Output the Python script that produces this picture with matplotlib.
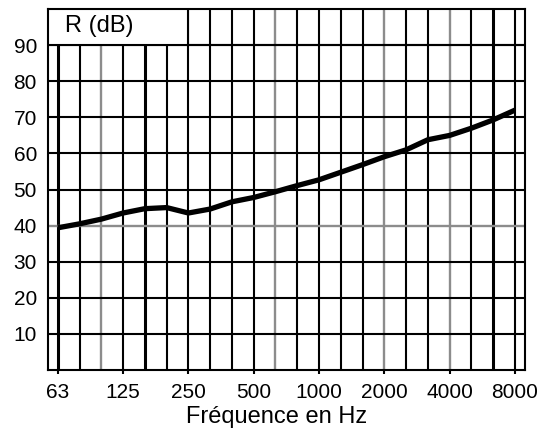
import matplotlib.pyplot as plt
from matplotlib.patches import Rectangle

plt.rcParams['font.family'] = ['Liberation Sans', 'DejaVu Sans']

# third-octave bands
bands = [63, 80, 100, 125, 160, 200, 250, 315, 400, 500, 630, 800,
         1000, 1250, 1600, 2000, 2500, 3150, 4000, 5000, 6300, 8000]
R = [39.4, 40.5, 41.8, 43.5, 44.7, 45.0, 43.5, 44.6, 46.6, 47.8, 49.4,
     51.1, 52.7, 54.8, 56.9, 59.1, 61.0, 63.8, 65.0, 67.0, 69.3, 72.0]
tick_labels = ['63', '125', '250', '500', '1000', '2000', '4000', '8000']
y_ticks = [10, 20, 30, 40, 50, 60, 70, 80, 90]

gray_bands = [100, 630, 2000, 4000]
thick_bands = [63, 160, 6300]

fig = plt.figure(figsize=(5.41, 4.32), dpi=100)
ax = fig.add_axes([0.0887, 0.1435, 0.8813, 0.8355])

xs = list(range(len(bands)))

# vertical grid
for i, b in enumerate(bands):
    if b in gray_bands:
        ax.axvline(i, color='0.55', lw=1.7, zorder=1)
    elif b in thick_bands:
        ax.axvline(i, color='black', lw=2.2, zorder=1)
    else:
        ax.axvline(i, color='black', lw=1.5, zorder=1)

# horizontal grid
for v in y_ticks:
    if v == 40:
        ax.axhline(v, color='0.55', lw=1.7, zorder=1)
    else:
        ax.axhline(v, color='black', lw=1.5, zorder=1)

# label box top-left
ax.add_patch(Rectangle((-0.45, 90), 6.45, 10, facecolor='white',
                       edgecolor='none', zorder=2))
ax.plot([6, 6], [90, 100], color='black', lw=1.5, zorder=3)
ax.axhline(90, color='black', lw=1.5, zorder=3)
ax.text(0.35, 95.3, 'R (dB)', fontsize=17, va='center', ha='left', zorder=4)

ax.plot(xs, R, color='black', lw=3.8, solid_capstyle='butt', zorder=5)

ax.set_xlim(-0.45, 21.45)
ax.set_ylim(0, 100)

major = [bands.index(int(t)) for t in tick_labels]
ax.set_xticks(major)
ax.set_xticklabels(tick_labels, fontsize=15)
ax.tick_params(axis='x', direction='out', length=3, width=1.5, pad=6)
ax.set_yticks(y_ticks)
ax.set_yticklabels([str(v) for v in y_ticks], fontsize=15)
ax.tick_params(axis='y', length=0, pad=8)

for s in ax.spines.values():
    s.set_linewidth(1.5)
    s.set_zorder(6)

ax.set_xlabel('Fréquence en Hz', fontsize=17)
ax.xaxis.set_label_coords(0.48, -0.1)

fig.savefig('out.png', dpi=100)
